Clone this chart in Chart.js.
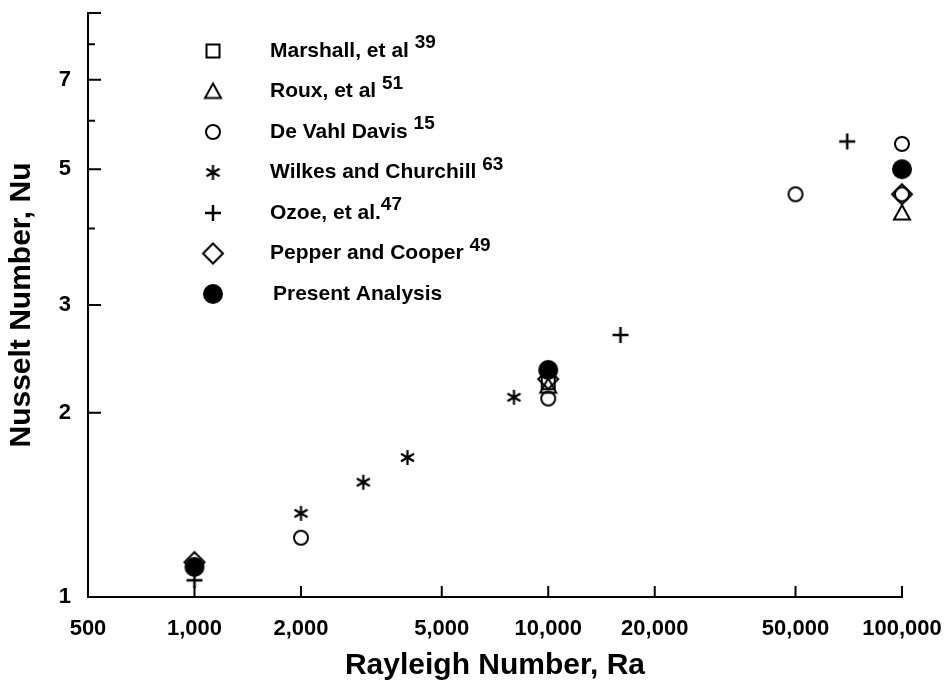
<!DOCTYPE html>
<html>
<head>
<meta charset="utf-8">
<script src="https://cdn.jsdelivr.net/npm/chart.js@4.4.1/dist/chart.umd.min.js"></script>
<style>
  html, body { margin: 0; padding: 0; background: #fff; }
</style>
</head>
<body>
<canvas id="nuChart" width="946" height="688"></canvas>
<script>
const xTicks = [500, 1000, 2000, 5000, 10000, 20000, 50000, 100000];
const xTickLabels = ['500', '1,000', '2,000', '5,000', '10,000', '20,000', '50,000', '100,000'];
const yTicks = [1, 2, 3, 4, 5, 6, 7, 8, 9];
const yTickLabels = ['1', '2', '3', '', '5', '', '7', '', ''];

// Ra / Nu
const marshallRa = [10000];
const marshallNu = [2.24];
const rouxRa = [10000, 100000];
const rouxNu = [2.21, 4.24];
const devahlRa = [2000, 10000, 50000, 100000, 100000];
const devahlNu = [1.25, 2.11, 4.55, 5.5, 4.55];
const wilkesRa = [2000, 3000, 4000, 8000];
const wilkesNu = [1.37, 1.54, 1.69, 2.12];
const ozoeRa = [1000, 16000, 70000];
const ozoeNu = [1.065, 2.68, 5.55];
const pepperRa = [1000, 10000, 100000];
const pepperNu = [1.14, 2.27, 4.55];
const presentRa = [1000, 10000, 100000];
const presentNu = [1.12, 2.35, 5.0];

const legendNames = ['Marshall, et al ', 'Roux, et al ', 'De Vahl Davis ', 'Wilkes and Churchill ', 'Ozoe, et al.', 'Pepper and Cooper ', 'Present Analysis'];
const legendRefs = ['39', '51', '15', '63', '47', '49', ''];

const FONT = '"Liberation Sans", Arial, sans-serif';

function makeMarker(kind, size) {
  const c = document.createElement('canvas');
  c.width = c.height = size + 6;
  const g = c.getContext('2d');
  const m = c.width / 2, r = size / 2;
  g.strokeStyle = '#000';
  g.fillStyle = '#000';
  g.lineWidth = 2;
  g.beginPath();
  if (kind === 'square') {
    g.rect(m - r, m - r, size, size);
    g.stroke();
  } else if (kind === 'triangle') {
    g.moveTo(m, m - r);
    g.lineTo(m + r, m + r * 0.8);
    g.lineTo(m - r, m + r * 0.8);
    g.closePath();
    g.stroke();
  } else if (kind === 'circle') {
    g.arc(m, m, r, 0, Math.PI * 2);
    g.stroke();
  } else if (kind === 'dot') {
    g.arc(m, m, r, 0, Math.PI * 2);
    g.fill();
  } else if (kind === 'diamond') {
    g.moveTo(m, m - r);
    g.lineTo(m + r, m);
    g.lineTo(m, m + r);
    g.lineTo(m - r, m);
    g.closePath();
    g.stroke();
  } else if (kind === 'plus') {
    g.lineWidth = 2.5;
    g.moveTo(m, m - r); g.lineTo(m, m + r);
    g.moveTo(m - r, m); g.lineTo(m + r, m);
    g.stroke();
  } else if (kind === 'asterisk') {
    g.lineWidth = 2.2;
    [90, 30, 150].forEach(a => {
      const dx = Math.cos(a * Math.PI / 180) * r, dy = Math.sin(a * Math.PI / 180) * r;
      g.moveTo(m - dx, m - dy); g.lineTo(m + dx, m + dy);
    });
    g.stroke();
  }
  return c;
}

const markers = [
  makeMarker('square', 13),
  makeMarker('triangle', 16),
  makeMarker('circle', 14),
  makeMarker('asterisk', 15),
  makeMarker('plus', 16),
  makeMarker('diamond', 20),
  makeMarker('dot', 20)
];

function pts(xs, ys) {
  return xs.map((x, i) => ({x: x, y: ys[i]}));
}

function ds(label, xs, ys, idx, order) {
  return {
    label: label,
    data: pts(xs, ys),
    pointStyle: markers[idx],
    pointRadius: 8,
    pointHoverRadius: 8,
    clip: false,
    order: order
  };
}

const innerTicks = {
  id: 'innerTicks',
  afterDraw(chart) {
    const {ctx, chartArea, scales} = chart;
    ctx.save();
    ctx.strokeStyle = '#000';
    ctx.lineWidth = 2;
    ctx.beginPath();
    yTicks.forEach((v, i) => {
      if (v === 1) return;
      const y = scales.y.getPixelForValue(v);
      const len = (yTickLabels[i] || v === 9) ? 13 : 7;
      ctx.moveTo(chartArea.left, y);
      ctx.lineTo(chartArea.left + len, y);
    });
    xTicks.forEach(v => {
      if (v === 500) return;
      const x = scales.x.getPixelForValue(v);
      ctx.moveTo(x, chartArea.bottom);
      ctx.lineTo(x, chartArea.bottom - 11);
    });
    ctx.stroke();
    ctx.restore();
  }
};

const keyBox = {
  id: 'keyBox',
  afterDraw(chart) {
    const ctx = chart.ctx;
    ctx.save();
    ctx.fillStyle = '#000';
    ctx.textBaseline = 'middle';
    legendNames.forEach((name, i) => {
      const y = 51 + i * 40.5;
      const mk = markers[i];
      ctx.drawImage(mk, 213 - mk.width / 2, y - mk.height / 2);
      const tx = i === 6 ? 273 : 270;
      ctx.font = 'bold 21px ' + FONT;
      ctx.fillText(name, tx, y);
      if (legendRefs[i]) {
        const w = ctx.measureText(name).width;
        ctx.font = 'bold 19px ' + FONT;
        ctx.fillText(legendRefs[i], tx + w, y - 8);
      }
    });
    ctx.restore();
  }
};

const ctx = document.getElementById('nuChart').getContext('2d');

new Chart(ctx, {
  type: 'scatter',
  data: {
    datasets: [
      ds('Marshall, et al', marshallRa, marshallNu, 0, 7),
      ds('Roux, et al', rouxRa, rouxNu, 1, 5),
      ds('De Vahl Davis', devahlRa, devahlNu, 2, 4),
      ds('Wilkes and Churchill', wilkesRa, wilkesNu, 3, 3),
      ds('Ozoe, et al.', ozoeRa, ozoeNu, 4, 2),
      ds('Pepper and Cooper', pepperRa, pepperNu, 5, 6),
      ds('Present Analysis', presentRa, presentNu, 6, 1)
    ]
  },
  options: {
    responsive: false,
    animation: false,
    layout: { padding: { top: 13, right: 44, left: 0, bottom: 0 } },
    plugins: {
      legend: { display: false },
      tooltip: { enabled: false }
    },
    scales: {
      x: {
        type: 'logarithmic',
        position: 'bottom',
        min: 500,
        max: 100000,
        afterFit(s) { s.height = 91; s.paddingLeft = 0; s.paddingRight = 0; },
        afterBuildTicks(s) { s.ticks = xTicks.map(v => ({ value: v })); },
        ticks: {
          autoSkip: false,
          maxRotation: 0,
          padding: 11,
          color: '#000',
          font: { family: FONT, size: 22, weight: 'bold' },
          callback: (v) => xTickLabels[xTicks.indexOf(v)] ?? ''
        },
        grid: { display: false },
        border: { display: true, color: '#000', width: 2 },
        title: {
          display: true,
          text: 'Rayleigh Number, Ra',
          color: '#000',
          font: { family: FONT, size: 30, weight: 'bold' },
          padding: { top: 0, bottom: 4 }
        }
      },
      y: {
        type: 'logarithmic',
        min: 1,
        max: 9,
        afterFit(s) { s.width = 88; s.paddingTop = 0; s.paddingBottom = 0; },
        afterBuildTicks(s) { s.ticks = yTicks.map(v => ({ value: v })); },
        ticks: {
          autoSkip: false,
          padding: 9,
          color: '#000',
          font: { family: FONT, size: 22, weight: 'bold' },
          callback: (v) => yTickLabels[yTicks.indexOf(v)] ?? ''
        },
        grid: { display: false },
        border: { display: true, color: '#000', width: 2 },
        title: {
          display: true,
          text: 'Nusselt Number, Nu',
          color: '#000',
          font: { family: FONT, size: 30, weight: 'bold' },
          padding: { top: 4, bottom: 0 }
        }
      }
    }
  },
  plugins: [innerTicks, keyBox]
});
</script>
</body>
</html>
